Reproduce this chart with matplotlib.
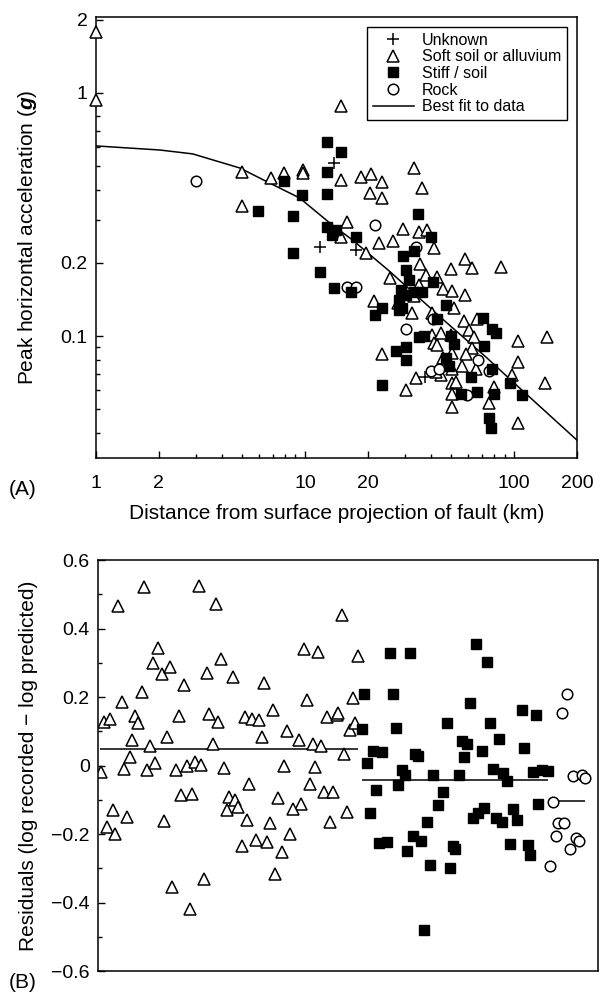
import matplotlib
matplotlib.use("Agg")
import matplotlib.pyplot as plt
from matplotlib.lines import Line2D
from matplotlib.ticker import FixedLocator, FixedFormatter, NullFormatter

plt.rcParams["font.family"] = ["Liberation Sans", "DejaVu Sans"]
plt.rcParams["mathtext.fontset"] = "custom"
plt.rcParams["mathtext.rm"] = "Liberation Sans"
plt.rcParams["mathtext.bfit"] = "Liberation Sans:italic:bold"

# ---- panel A: PGA vs distance (km, g) ----
unk_r = [13.8, 11.8, 17.6, 37.6]
unk_pga = [0.515, 0.233, 0.226, 0.068]

soft_r = [1.0, 1.0, 4.97, 4.97, 6.91, 7.89, 9.83, 9.83, 14.8, 14.9, 18.6, 20.7,
          23.4, 33.3, 36.3, 20.5, 23.4, 15.8, 29.5, 35.2, 38.4, 14.9, 22.6, 26.4,
          41.5, 19.6, 58.3, 63.0, 50.0, 86.7, 35.6, 25.6, 38.0, 42.9, 35.2, 45.8,
          50.6, 33.3, 58.3, 21.4, 27.9, 32.5, 51.7, 40.6, 57.7, 66.5, 61.0, 64.4,
          40.6, 44.8, 50.0, 41.5, 42.9, 104, 143, 63.0, 23.4, 59.0, 50.6, 45.8,
          56.4, 104, 34.0, 44.8, 42.4, 50.6, 65.8, 97.8, 50.6, 52.8, 141, 30.5,
          80.2, 50.6, 75.9, 50.6, 104]
soft_pga = [1.78, 0.936, 0.473, 0.343, 0.447, 0.469, 0.482, 0.469, 0.884, 0.438,
            0.451, 0.465, 0.430, 0.491, 0.406, 0.388, 0.370, 0.295, 0.275, 0.268,
            0.273, 0.255, 0.242, 0.246, 0.230, 0.220, 0.208, 0.191, 0.189, 0.192,
            0.198, 0.173, 0.178, 0.175, 0.162, 0.156, 0.153, 0.146, 0.148, 0.139,
            0.137, 0.124, 0.130, 0.124, 0.115, 0.118, 0.106, 0.099, 0.101, 0.103,
            0.101, 0.094, 0.092, 0.095, 0.099, 0.089, 0.084, 0.084, 0.085, 0.081,
            0.075, 0.078, 0.067, 0.069, 0.071, 0.073, 0.073, 0.069, 0.064, 0.065,
            0.064, 0.060, 0.062, 0.058, 0.053, 0.051, 0.044]

stiff_r = [5.93, 7.89, 8.8, 8.71, 12.8, 14.8, 12.8, 12.8, 9.72, 34.8, 12.8, 13.4,
           14.1, 17.6, 40.1, 33.3, 29.5, 11.8, 30.5, 31.5, 41.0, 13.8, 16.6, 28.8,
           30.5, 33.3, 36.3, 28.2, 29.2, 23.4, 21.7, 28.2, 47.3, 42.9, 71.1, 78.5,
           82.0, 35.2, 37.2, 50.0, 51.7, 71.8, 27.3, 30.5, 30.5, 47.3, 48.9, 78.5,
           62.3, 95.7, 23.4, 55.8, 66.5, 80.2, 108.6, 75.9, 77.6]
stiff_pga = [0.327, 0.434, 0.312, 0.220, 0.628, 0.572, 0.473, 0.384, 0.380, 0.318,
             0.281, 0.260, 0.273, 0.255, 0.255, 0.224, 0.213, 0.183, 0.187, 0.170,
             0.167, 0.158, 0.152, 0.155, 0.148, 0.152, 0.152, 0.141, 0.130, 0.130,
             0.122, 0.128, 0.134, 0.118, 0.119, 0.107, 0.103, 0.099, 0.100, 0.100,
             0.093, 0.091, 0.087, 0.090, 0.080, 0.081, 0.075, 0.073, 0.068, 0.064,
             0.063, 0.058, 0.059, 0.058, 0.057, 0.046, 0.042]

rock_r = [3.0, 21.7, 34.0, 15.8, 17.6, 41.0, 30.5, 67.3, 40.1, 43.8, 75.9, 59.6]
rock_pga = [0.434, 0.286, 0.233, 0.159, 0.159, 0.118, 0.107, 0.080, 0.072, 0.073,
            0.072, 0.057]

fit_r = [1.0, 2.02, 2.9, 4.87, 6.76, 9.4, 13.5, 16.8, 25.3, 47.3, 73.3, 97.7, 200]
fit_pga = [0.605, 0.582, 0.561, 0.491, 0.426, 0.370, 0.286, 0.249, 0.185, 0.114,
           0.082, 0.0653, 0.0373]

x_major = [1, 2, 10, 20, 100, 200]
x_minor = [3, 4, 5, 6, 7, 8, 9, 30, 40, 50, 60, 70, 80, 90]
y_major = [0.1, 0.2, 1, 2]
y_minor = [0.04, 0.05, 0.06, 0.07, 0.08, 0.09, 0.3, 0.4, 0.5, 0.6, 0.7, 0.8]

# ---- panel B: residuals by record, grouped by site class ----
soft_rec = [3, 6, 12, 20, 24, 26, 37, 40, 34, 32, 46, 44, 49, 52, 57, 60, 55, 64,
            72, 69, 78, 86, 81, 89, 97, 103, 101, 109, 111, 120, 115, 118, 123,
            126, 135, 147, 154, 161, 164, 166, 175, 186, 189, 201,
            244, 206, 220, 260, 209, 255, 229, 239, 240, 252, 257, 215, 223, 246,
            217, 212, 226, 235, 203, 249, 232,
            15, 9, 17, 29, 66, 83, 94, 74, 92, 106, 129, 131, 137, 140, 151, 149,
            144, 158, 169, 172, 184, 177, 180, 192, 195]
soft_res = [-0.02, 0.128, 0.135, 0.466, 0.186, -0.009, 0.145, 0.123, 0.074, 0.025,
            0.52, 0.215, -0.014, 0.057, 0.008, 0.342, 0.30, 0.267, 0.287, 0.084,
            -0.012, 0.235, 0.145, -0.001, 0.011, 0.001, 0.525, 0.269, 0.149, 0.128,
            0.062, 0.472, 0.311, -0.007, 0.259, 0.142, 0.136, 0.133, 0.084, 0.242,
            0.162, -0.001, 0.10, 0.074,
            0.439, 0.339, 0.332, 0.32, 0.191, 0.198, 0.142, 0.147, 0.154, 0.103,
            0.123, 0.064, 0.057, 0.035, -0.004, -0.053, -0.077, -0.077, -0.112,
            -0.135, -0.165,
            -0.131, -0.179, -0.199, -0.150, -0.162, -0.085, -0.082, -0.356, -0.418,
            -0.332, -0.129, -0.092, -0.101, -0.121, -0.055, -0.158, -0.236, -0.218,
            -0.223, -0.169, -0.252, -0.318, -0.094, -0.199, -0.128]

stiff_rec = [292, 312, 378, 389, 266, 295, 372, 424, 438, 264, 298, 349, 392, 364,
             369, 401, 275, 284, 317, 320, 384, 426, 366, 269, 304, 307, 335, 361,
             395, 405, 409, 435, 444, 450, 300, 278, 345, 340, 272, 329, 375, 380,
             386, 398, 404, 415, 419, 440, 281, 289, 315, 323, 309, 355, 357, 412,
             430, 432, 332, 352, 326]
stiff_res = [0.329, 0.329, 0.354, 0.303, 0.210, 0.209, 0.183, 0.162, 0.147, 0.108,
             0.111, 0.123, 0.125, 0.071, 0.064, 0.076, 0.042, 0.040, 0.035, 0.027,
             0.043, 0.052, 0.024, 0.008, -0.014, -0.028, -0.028, -0.028, -0.010,
             -0.023, -0.045, -0.019, -0.012, -0.016, -0.057, -0.072, -0.077, -0.116,
             -0.140, -0.165, -0.152, -0.140, -0.124, -0.152, -0.165, -0.126, -0.160,
             -0.113, -0.226, -0.223, -0.207, -0.220, -0.249, -0.236, -0.245, -0.228,
             -0.233, -0.260, -0.291, -0.298, -0.481]

rock_rec = [469, 464, 475, 484, 487, 455, 460, 466, 458, 478, 481, 472, 452]
rock_res = [0.210, 0.152, -0.031, -0.028, -0.035, -0.106, -0.167, -0.169, -0.207,
            -0.211, -0.220, -0.245, -0.293]

mean_start = [2, 264, 455]
mean_end = [260, 450, 487]
mean_res = [0.048, -0.043, -0.104]

res_ticks = [-0.6, -0.4, -0.2, 0, 0.2, 0.4, 0.6]
res_labels = ["\u22120.6", "\u22120.4", "\u22120.2", "0", "0.2", "0.4", "0.6"]
res_minor = [-0.5, -0.3, -0.1, 0.1, 0.3, 0.5]

FS = 14      # tick labels
LFS = 15     # axis labels
mk = dict(linestyle="none", color="black")
tri = dict(marker="^", ms=8, mfc="white", mec="black", mew=1.1, **mk)
sq = dict(marker="s", ms=7.2, mfc="black", mec="black", **mk)
circ = dict(marker="o", ms=7.6, mfc="white", mec="black", mew=1.1, **mk)
plus = dict(marker="+", ms=8.5, mew=1.1, **mk)

fig = plt.figure(figsize=(6.05, 10.02), dpi=100)
ax = fig.add_axes([0.1587, 0.5429, 0.7950, 0.4401])
bx = fig.add_axes([0.1620, 0.0309, 0.8264, 0.4102])

# panel A
ax.plot(fit_r, fit_pga, color="black", lw=1.1, zorder=2)
ax.plot(soft_r, soft_pga, clip_on=False, zorder=3, **tri)
ax.plot(stiff_r, stiff_pga, zorder=4, **sq)
ax.plot(rock_r, rock_pga, zorder=3, **circ)
ax.plot(unk_r, unk_pga, zorder=5, **plus)
ax.set_xscale("log")
ax.set_yscale("log")
ax.set_xlim(1, 200)
ax.set_ylim(0.0315, 2.05)
ax.xaxis.set_major_locator(FixedLocator(x_major))
ax.xaxis.set_major_formatter(FixedFormatter([str(v) for v in x_major]))
ax.xaxis.set_minor_locator(FixedLocator(x_minor))
ax.xaxis.set_minor_formatter(NullFormatter())
ax.yaxis.set_major_locator(FixedLocator(y_major))
ax.yaxis.set_major_formatter(FixedFormatter(["0.1", "0.2", "1", "2"]))
ax.yaxis.set_minor_locator(FixedLocator(y_minor))
ax.yaxis.set_minor_formatter(NullFormatter())
ax.tick_params(which="both", direction="in", top=False, right=False,
               width=1, labelsize=FS)
ax.tick_params(which="major", length=5)
ax.tick_params(which="minor", length=3)
ax.tick_params(axis="x", pad=12)
ax.tick_params(axis="y", pad=6)
ax.set_xlabel("Distance from surface projection of fault (km)", fontsize=LFS,
              labelpad=9)
ax.set_ylabel(r"Peak horizontal acceleration ($\mathbfit{g}$)", fontsize=LFS,
              va="center")
ax.yaxis.set_label_coords(-0.143, 0.5)
for s in ax.spines.values():
    s.set_linewidth(1.1)

handles = [
    Line2D([], [], **plus),
    Line2D([], [], **tri),
    Line2D([], [], **sq),
    Line2D([], [], **circ),
    Line2D([], [], color="black", lw=1.1),
]
labels = ["Unknown", "Soft soil or alluvium", "Stiff / soil", "Rock",
          "Best fit to data"]
leg = ax.legend(handles, labels, loc="upper right", bbox_to_anchor=(0.979, 0.977),
                borderaxespad=0, fontsize=11.5, frameon=True, fancybox=False,
                edgecolor="black", framealpha=1, handlelength=2.6,
                handletextpad=0.5, labelspacing=0.1, borderpad=0.35)
leg.get_frame().set_linewidth(1.0)

# panel B
bx.plot(soft_rec, soft_res, **tri)
bx.plot(stiff_rec, stiff_res, **sq)
bx.plot(rock_rec, rock_res, **circ)
bx.hlines(mean_res, mean_start, mean_end, color="black", lw=1.1, zorder=1)
bx.set_xlim(0, 500)
bx.set_ylim(-0.6, 0.6)
bx.set_xticks([])
bx.set_yticks(res_ticks)
bx.set_yticklabels(res_labels)
bx.set_yticks(res_minor, minor=True)
bx.tick_params(which="both", direction="in", right=False, width=1, labelsize=FS,
               pad=6)
bx.tick_params(which="major", length=5)
bx.tick_params(which="minor", length=3)
bx.set_ylabel("Residuals (log recorded \u2212 log predicted)", fontsize=LFS,
              va="center")
bx.yaxis.set_label_coords(-0.14, 0.5)
for s in bx.spines.values():
    s.set_linewidth(1.1)

fig.text(0.038, 0.511, "(A)", fontsize=LFS, ha="center", va="center")
fig.text(0.038, 0.019, "(B)", fontsize=LFS, ha="center", va="center")

fig.savefig("out.png", dpi=100)
